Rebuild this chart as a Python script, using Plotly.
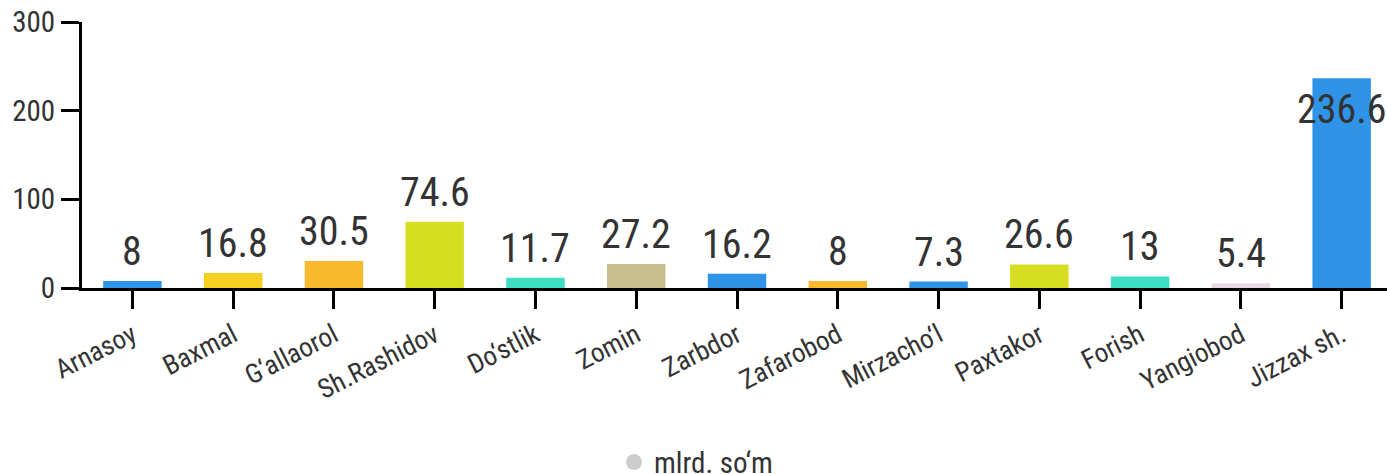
import plotly.graph_objects as go

categories = ["Arnasoy", "Baxmal", "G‘allaorol", "Sh.Rashidov", "Do‘stlik", "Zomin",
              "Zarbdor", "Zafarobod", "Mirzacho‘l", "Paxtakor", "Forish", "Yangiobod", "Jizzax sh."]
values = [8, 16.8, 30.5, 74.6, 11.7, 27.2, 16.2, 8, 7.3, 26.6, 13, 5.4, 236.6]
labels = ["8", "16.8", "30.5", "74.6", "11.7", "27.2", "16.2", "8", "7.3", "26.6", "13", "5.4", "236.6"]
colors = ["#2f93e8", "#f6d020", "#f8b92d", "#d7de22", "#3ddec4", "#c8bd8d", "#2f93e8",
          "#f8b92d", "#2f93e8", "#d7de22", "#3ddec4", "#e8d8e4", "#2f93e8"]
series_name = "mlrd. so‘m"
y_ticks = [0, 100, 200, 300]

FONT = "Roboto Condensed, Liberation Sans Narrow, DejaVu Sans Condensed, Roboto, sans-serif"

fig = go.Figure()
fig.add_trace(go.Bar(
    x=categories, y=values, marker=dict(color=colors, line=dict(width=0)),
    width=0.58, showlegend=False, hoverinfo="x+y",
))
fig.add_trace(go.Scatter(
    x=[None], y=[None], mode="markers", name=series_name,
    marker=dict(symbol="circle", color="#cccccc", size=22),
))

annotations = []
for i, (c, v, t) in enumerate(zip(categories, values, labels)):
    top = v > 200
    annotations.append(dict(
        x=c, y=v, text=t, showarrow=False, xref="x", yref="y",
        yanchor="top" if top else "bottom", yshift=-6 if top else 4,
        font=dict(family=FONT, size=40, color="#333333"),
    ))

fig.update_layout(
    width=1387, height=474, autosize=False,
    margin=dict(l=82, r=0, t=22, b=186, autoexpand=False),
    plot_bgcolor="white", paper_bgcolor="white",
    font=dict(family=FONT, color="#333333"),
    bargap=0.42,
    annotations=annotations,
    legend=dict(orientation="h", x=0.4705, xanchor="center", y=-0.655, yanchor="middle",
                font=dict(family=FONT, size=29, color="#333333"), itemsizing="trace"),
    xaxis=dict(
        range=[-0.5, 12.45], showline=True, linecolor="black", linewidth=3,
        ticks="outside", ticklen=18, tickwidth=3, tickcolor="black",
        tickangle=-27, tickfont=dict(family=FONT, size=27, color="#333333"),
        showgrid=False, zeroline=False, fixedrange=True, automargin=False,
    ),
    yaxis=dict(
        range=[0, 300], tickvals=y_ticks, showline=True, linecolor="black", linewidth=3,
        ticks="outside", ticklen=18, tickwidth=3, tickcolor="black",
        tickfont=dict(family=FONT, size=29, color="#333333"),
        showgrid=False, zeroline=False, fixedrange=True, automargin=False,
    ),
)

fig.write_html(
    "out.html",
    config={"displayModeBar": False},
    post_script="document.body.style.margin='0';document.body.style.overflow='hidden';",
)
